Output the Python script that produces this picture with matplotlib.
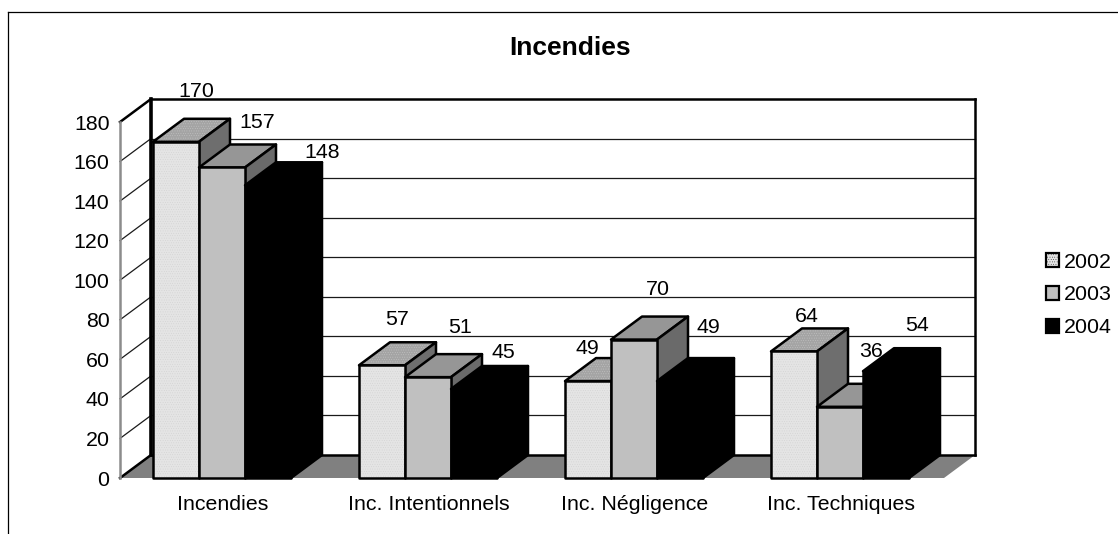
import matplotlib
matplotlib.use('Agg')
import matplotlib.pyplot as plt
from matplotlib.patches import Polygon, Patch
from matplotlib.lines import Line2D

plt.rcParams['font.family'] = ['Liberation Sans', 'DejaVu Sans']
plt.rcParams['hatch.linewidth'] = 0.2

categories = ['Incendies', 'Inc. Intentionnels', 'Inc. Négligence', 'Inc. Techniques']
years = ['2002', '2003', '2004']
values_2002 = [170, 57, 49, 64]
values_2003 = [157, 51, 70, 36]
values_2004 = [148, 45, 49, 54]
yticks = list(range(0, 181, 20))

# label offsets in pixels from the front top left corner of each bar
label_dx = [[43, 38, 22, 36], [58, 55, 47, 54], [77, 52, 51, 54]]
label_dy = [[50, 46, 33, 35], [45, 50, 50, 55], [33, 36, 54, 46]]

FONT = 15.4
DEPTH_X = 31 / 206      # depth of the 3d box, category units
DEPTH_Y = 23 / 1.978    # same, value units
BAR_W = 46 / 206
BAR_START = 33 / 206

# front, top, side colours for each series
colors = [('#e4e4e4', '#a4a4a4', '#6e6e6e'),
          ('#c0c0c0', '#969696', '#6a6a6a'),
          ('#000000', '#000000', '#000000')]

fig = plt.figure(figsize=(11.18, 5.34), dpi=100)
ax = fig.add_axes([120 / 1118, 56 / 534, 824 / 1118, 356 / 534])
ax.set_xlim(0, 4)
ax.set_ylim(0, 180)
ax.patch.set_visible(False)
for s in ax.spines.values():
    s.set_visible(False)


def face(pts, fc, z, lw=1.8, ec='black', hatch=None):
    if hatch:
        ax.add_patch(Polygon(pts, closed=True, facecolor=fc, edgecolor='#cccccc', hatch=hatch,
                             linewidth=0, clip_on=False, zorder=z))
        ax.add_patch(Polygon(pts, closed=True, fill=False, edgecolor=ec, linewidth=lw,
                             clip_on=False, zorder=z, joinstyle='round'))
    else:
        ax.add_patch(Polygon(pts, closed=True, facecolor=fc, edgecolor=ec, linewidth=lw,
                             clip_on=False, zorder=z, joinstyle='round'))


def line(xs, ys, color='black', lw=1.0, z=1):
    ax.plot(xs, ys, color=color, lw=lw, clip_on=False, zorder=z, solid_capstyle='projecting')


# floor
face([(0, 0), (DEPTH_X, DEPTH_Y), (4 + DEPTH_X, DEPTH_Y), (4, 0)], '#808080', 1, lw=0, ec='#808080')

# gridlines on the back wall and the left wall
for t in yticks[1:-1]:
    line([0, DEPTH_X], [t, t + DEPTH_Y], color='#1a1a1a', lw=0.9)
    line([DEPTH_X, 4 + DEPTH_X], [t + DEPTH_Y, t + DEPTH_Y], color='#1a1a1a', lw=0.9)

# wall outline
line([DEPTH_X, DEPTH_X], [DEPTH_Y, 180 + DEPTH_Y], lw=2.6, z=2)
line([DEPTH_X, 4 + DEPTH_X], [180 + DEPTH_Y, 180 + DEPTH_Y], lw=1.8, z=2)
line([4 + DEPTH_X, 4 + DEPTH_X], [DEPTH_Y, 180 + DEPTH_Y], lw=1.8, z=2)
line([DEPTH_X, 4 + DEPTH_X], [DEPTH_Y, DEPTH_Y], lw=1.8, z=2)
line([0, DEPTH_X], [180, 180 + DEPTH_Y], lw=1.8, z=2)
line([0, DEPTH_X], [0, DEPTH_Y], lw=1.8, z=2)

# front value axis, the white ticks sit on top of it
line([0, 0], [0, 180], color='#8c8c8c', lw=1.8, z=2)

# boxes, painted from left to right so each one hides the side of the previous
z = 10
series = [values_2002, values_2003, values_2004]
for c in range(len(categories)):
    for s, vals in enumerate(series):
        v = vals[c]
        x0 = c + BAR_START + s * BAR_W
        x1 = x0 + BAR_W
        fc, tc, sc = colors[s]
        hatch = '.......' if s == 0 else None
        face([(x0, v), (x0 + DEPTH_X, v + DEPTH_Y), (x1 + DEPTH_X, v + DEPTH_Y), (x1, v)], tc, z, hatch=hatch)
        face([(x1, 0), (x1 + DEPTH_X, DEPTH_Y), (x1 + DEPTH_X, v + DEPTH_Y), (x1, v)], sc, z)
        face([(x0, 0), (x1, 0), (x1, v), (x0, v)], fc, z, hatch=hatch)
        z += 1
        ax.annotate(str(v), xy=(x0, v), xytext=(label_dx[s][c] * 0.72, label_dy[s][c] * 0.72),
                    textcoords='offset points', ha='center', va='center',
                    fontsize=FONT, color='black', zorder=50, annotation_clip=False)

ax.set_xticks([i + 0.5 for i in range(len(categories))])
ax.set_xticklabels(categories, fontsize=FONT)
ax.set_yticks(yticks)
ax.tick_params(axis='x', length=0, pad=12)
ax.tick_params(axis='y', direction='inout', length=2, width=0.8, color='white', pad=6.5, labelsize=FONT)

fig.text(570 / 1118, 1 - 48 / 534, 'Incendies', fontsize=19, fontweight='bold',
         ha='center', va='center')

# frame of the chart area, open to the right and at the bottom
fig.add_artist(Line2D([8 / 1118, 8 / 1118], [0, 1 - 12 / 534], color='black', lw=0.9))
fig.add_artist(Line2D([8 / 1118, 1], [1 - 12 / 534, 1 - 12 / 534], color='black', lw=0.9))

handles = [Patch(facecolor=colors[i][0], edgecolor='black', linewidth=1.6,
                 hatch='.......' if i == 0 else None) for i in range(3)]
fig.legend(handles, years, loc='center left', bbox_to_anchor=(1046 / 1118, 1 - 295 / 534),
           frameon=False, fontsize=FONT, handlelength=0.62, handleheight=0.62,
           handletextpad=0.22, labelspacing=0.64, borderpad=0, borderaxespad=0)

fig.savefig('out.png', dpi=100)
